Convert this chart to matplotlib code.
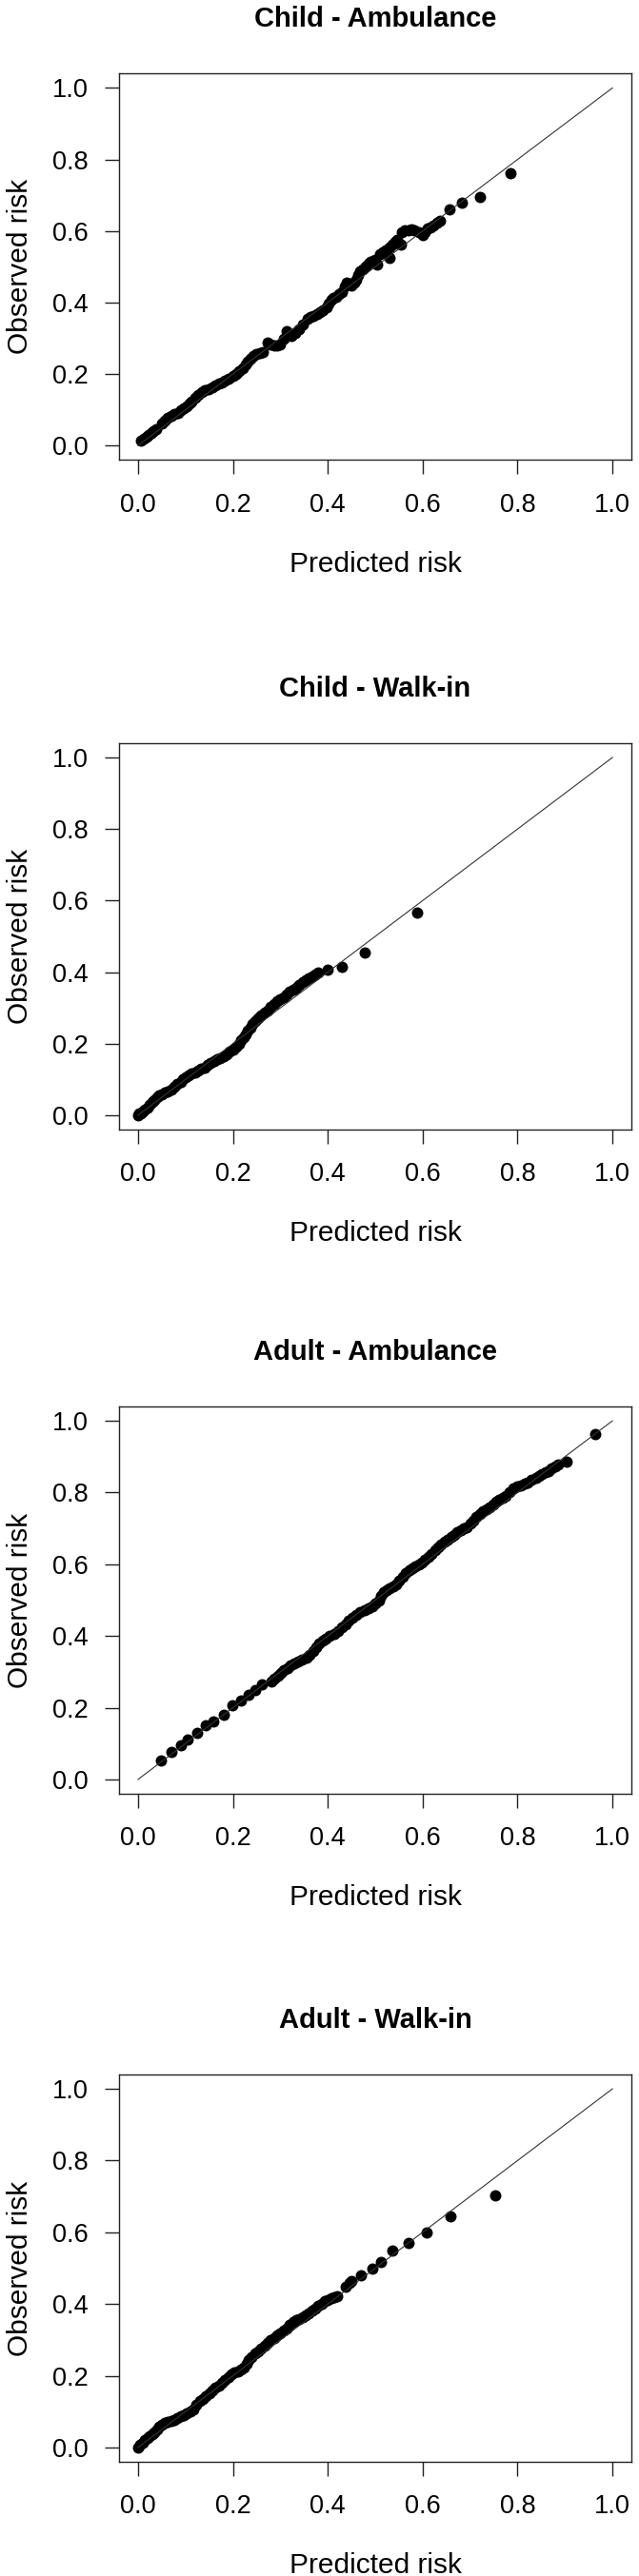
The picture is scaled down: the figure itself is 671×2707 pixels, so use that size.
import matplotlib
matplotlib.use("Agg")
import matplotlib.pyplot as plt

# ---------------------------
# 1. Data
# ---------------------------
titles = ['Child - Ambulance', 'Child - Walk-in', 'Adult - Ambulance', 'Adult - Walk-in']
tick_values = [0.0, 0.2, 0.4, 0.6, 0.8, 1.0]
tick_labels = ['0.0', '0.2', '0.4', '0.6', '0.8', '1.0']

child_amb_pred = [0.007, 0.013, 0.018, 0.023, 0.028, 0.033, 0.038, 0.050, 0.056, 0.063,
                  0.070, 0.077, 0.084, 0.090, 0.097, 0.103, 0.108, 0.113, 0.120, 0.127,
                  0.134, 0.140, 0.148, 0.157, 0.163, 0.170, 0.177, 0.183, 0.191, 0.200,
                  0.207, 0.213, 0.220, 0.227, 0.232, 0.237, 0.243, 0.250, 0.257, 0.263,
                  0.273, 0.280, 0.287, 0.293, 0.300, 0.307, 0.313, 0.318, 0.323, 0.332,
                  0.340, 0.348, 0.357, 0.363, 0.370, 0.377, 0.383, 0.390, 0.397, 0.402,
                  0.407, 0.412, 0.417, 0.423, 0.430, 0.435, 0.440, 0.445, 0.450, 0.455,
                  0.460, 0.463, 0.467, 0.473, 0.480, 0.485, 0.490, 0.495, 0.500, 0.505,
                  0.510, 0.517, 0.523, 0.530, 0.530, 0.537, 0.542, 0.547, 0.555, 0.557,
                  0.563, 0.570, 0.577, 0.583, 0.592, 0.600, 0.605, 0.610, 0.617, 0.623,
                  0.630, 0.637, 0.657, 0.683, 0.720, 0.785]
child_amb_obs = [0.013, 0.020, 0.024, 0.030, 0.035, 0.040, 0.046, 0.062, 0.070, 0.078,
                 0.084, 0.089, 0.092, 0.098, 0.105, 0.111, 0.117, 0.124, 0.133, 0.142,
                 0.149, 0.155, 0.158, 0.164, 0.168, 0.173, 0.177, 0.182, 0.188, 0.195,
                 0.201, 0.208, 0.216, 0.226, 0.236, 0.244, 0.251, 0.257, 0.260, 0.262,
                 0.288, 0.282, 0.279, 0.281, 0.284, 0.300, 0.319, 0.312, 0.306, 0.316,
                 0.324, 0.338, 0.355, 0.359, 0.363, 0.368, 0.372, 0.379, 0.386, 0.397,
                 0.408, 0.412, 0.417, 0.423, 0.430, 0.445, 0.457, 0.452, 0.448, 0.457,
                 0.465, 0.476, 0.488, 0.494, 0.501, 0.508, 0.514, 0.517, 0.519, 0.505,
                 0.536, 0.541, 0.545, 0.525, 0.553, 0.563, 0.570, 0.576, 0.562, 0.598,
                 0.601, 0.603, 0.604, 0.603, 0.597, 0.590, 0.598, 0.607, 0.611, 0.616,
                 0.622, 0.629, 0.660, 0.678, 0.696, 0.761]

child_walk_pred = [0.000, 0.003, 0.006, 0.010, 0.015, 0.020, 0.025, 0.030, 0.035, 0.040,
                   0.045, 0.050, 0.057, 0.063, 0.070, 0.077, 0.083, 0.090, 0.095, 0.100,
                   0.107, 0.113, 0.120, 0.127, 0.133, 0.140, 0.147, 0.153, 0.160, 0.167,
                   0.173, 0.180, 0.187, 0.193, 0.200, 0.207, 0.212, 0.217, 0.222, 0.227,
                   0.232, 0.237, 0.242, 0.247, 0.253, 0.260, 0.267, 0.273, 0.280, 0.287,
                   0.293, 0.300, 0.307, 0.313, 0.320, 0.327, 0.333, 0.340, 0.347, 0.353,
                   0.360, 0.367, 0.373, 0.380, 0.400, 0.429, 0.477, 0.589]
child_walk_obs = [0.001, 0.004, 0.006, 0.010, 0.015, 0.021, 0.028, 0.036, 0.043, 0.050,
                  0.055, 0.059, 0.063, 0.067, 0.073, 0.081, 0.087, 0.094, 0.101, 0.107,
                  0.112, 0.116, 0.120, 0.125, 0.129, 0.134, 0.141, 0.147, 0.152, 0.156,
                  0.160, 0.165, 0.171, 0.178, 0.184, 0.191, 0.200, 0.209, 0.218, 0.227,
                  0.236, 0.245, 0.254, 0.262, 0.271, 0.280, 0.287, 0.293, 0.302, 0.311,
                  0.318, 0.324, 0.331, 0.338, 0.345, 0.351, 0.357, 0.364, 0.371, 0.378,
                  0.383, 0.387, 0.393, 0.400, 0.406, 0.415, 0.456, 0.566]

adult_amb_pred = [0.048, 0.070, 0.090, 0.105, 0.125, 0.142, 0.159, 0.180, 0.199, 0.217,
                  0.234, 0.247, 0.262, 0.281, 0.288, 0.295, 0.302, 0.308, 0.315, 0.322,
                  0.330, 0.338, 0.346, 0.355, 0.362, 0.369, 0.376, 0.382, 0.389, 0.396,
                  0.404, 0.413, 0.421, 0.430, 0.437, 0.443, 0.452, 0.460, 0.468, 0.477,
                  0.485, 0.494, 0.501, 0.508, 0.513, 0.518, 0.525, 0.531, 0.538, 0.545,
                  0.551, 0.558, 0.565, 0.572, 0.578, 0.585, 0.592, 0.599, 0.605, 0.612,
                  0.619, 0.626, 0.632, 0.639, 0.646, 0.653, 0.660, 0.666, 0.673, 0.680,
                  0.687, 0.693, 0.700, 0.707, 0.713, 0.720, 0.727, 0.734, 0.741, 0.748,
                  0.755, 0.761, 0.768, 0.775, 0.783, 0.792, 0.800, 0.808, 0.815, 0.822,
                  0.830, 0.839, 0.845, 0.852, 0.859, 0.866, 0.872, 0.879, 0.886, 0.903,
                  0.963]
adult_amb_obs = [0.052, 0.077, 0.096, 0.112, 0.130, 0.150, 0.161, 0.179, 0.206, 0.221,
                 0.237, 0.250, 0.265, 0.274, 0.282, 0.290, 0.297, 0.304, 0.311, 0.317,
                 0.323, 0.330, 0.335, 0.339, 0.348, 0.357, 0.368, 0.379, 0.386, 0.393,
                 0.400, 0.406, 0.415, 0.424, 0.433, 0.442, 0.451, 0.459, 0.466, 0.473,
                 0.478, 0.482, 0.491, 0.500, 0.511, 0.522, 0.528, 0.533, 0.538, 0.544,
                 0.555, 0.566, 0.575, 0.584, 0.589, 0.593, 0.600, 0.606, 0.613, 0.620,
                 0.629, 0.638, 0.646, 0.655, 0.662, 0.669, 0.676, 0.682, 0.689, 0.695,
                 0.700, 0.704, 0.713, 0.722, 0.731, 0.740, 0.747, 0.753, 0.760, 0.767,
                 0.774, 0.780, 0.786, 0.791, 0.801, 0.811, 0.816, 0.820, 0.825, 0.829,
                 0.836, 0.842, 0.847, 0.851, 0.856, 0.860, 0.867, 0.874, 0.878, 0.885,
                 0.963]

adult_walk_pred = [0.000, 0.005, 0.010, 0.015, 0.020, 0.025, 0.030, 0.035, 0.040, 0.045,
                   0.050, 0.057, 0.063, 0.070, 0.077, 0.083, 0.090, 0.097, 0.103, 0.110,
                   0.117, 0.123, 0.130, 0.137, 0.143, 0.150, 0.157, 0.163, 0.170, 0.177,
                   0.183, 0.190, 0.197, 0.203, 0.210, 0.217, 0.223, 0.228, 0.233, 0.240,
                   0.247, 0.253, 0.260, 0.267, 0.273, 0.280, 0.287, 0.293, 0.300, 0.307,
                   0.313, 0.320, 0.327, 0.333, 0.340, 0.347, 0.353, 0.360, 0.367, 0.373,
                   0.380, 0.387, 0.393, 0.400, 0.407, 0.413, 0.420, 0.437, 0.445, 0.450,
                   0.470, 0.493, 0.513, 0.537, 0.570, 0.608, 0.658, 0.753]
adult_walk_obs = [0.001, 0.007, 0.014, 0.020, 0.027, 0.031, 0.036, 0.043, 0.050, 0.057,
                  0.063, 0.068, 0.072, 0.075, 0.078, 0.082, 0.087, 0.091, 0.095, 0.101,
                  0.107, 0.118, 0.129, 0.135, 0.142, 0.151, 0.160, 0.166, 0.173, 0.180,
                  0.187, 0.196, 0.204, 0.209, 0.213, 0.218, 0.222, 0.233, 0.244, 0.253,
                  0.262, 0.268, 0.275, 0.284, 0.293, 0.300, 0.306, 0.313, 0.319, 0.326,
                  0.332, 0.341, 0.350, 0.355, 0.359, 0.364, 0.368, 0.375, 0.381, 0.388,
                  0.394, 0.401, 0.408, 0.412, 0.416, 0.419, 0.421, 0.447, 0.458, 0.465,
                  0.480, 0.499, 0.516, 0.549, 0.569, 0.599, 0.645, 0.704]

panels = [
    (child_amb_pred, child_amb_obs),
    (child_walk_pred, child_walk_obs),
    (adult_amb_pred, adult_amb_obs),
    (adult_walk_pred, adult_walk_obs),
]

# ---------------------------
# 2. Layout (pixels of the 671 x 2707 canvas)
# ---------------------------
W, H = 671, 2707
box_left, box_width = 125, 538
box_top_bottom = [(77.4, 483.3), (781, 1187), (1478, 1885), (2180, 2587)]

plt.rcParams['font.family'] = ['Liberation Sans', 'DejaVu Sans']

fig = plt.figure(figsize=(W / 100, H / 100), dpi=100)

# ---------------------------
# 3. Draw each calibration panel
# ---------------------------
for (pred, obs), title, (top, bottom) in zip(panels, titles, box_top_bottom):
    h = bottom - top
    ax = fig.add_axes([box_left / W, 1 - bottom / H, box_width / W, h / H])

    ax.plot(pred, obs, 'o', color='black', markersize=8.6, markeredgewidth=0, zorder=2)
    ax.plot([0, 1], [0, 1], color='#333333', linewidth=0.8, zorder=3)

    ax.set_xlim(-0.04, 1.04)
    ax.set_ylim(-0.04, 1.04)
    ax.set_xticks(tick_values)
    ax.set_xticklabels(tick_labels)
    ax.set_yticks(tick_values)
    ax.set_yticklabels(tick_labels)
    ax.tick_params(direction='out', length=10.8, width=1.0, labelsize=19.5, color='#222222')
    ax.tick_params(axis='x', pad=14.0)
    ax.tick_params(axis='y', pad=12.5)
    for spine in ax.spines.values():
        spine.set_linewidth(1.0)
        spine.set_color('#222222')

    ax.text(0.5, 1 + 49 / h, title, transform=ax.transAxes, ha='center', va='baseline',
            fontsize=21, fontweight='bold')
    ax.text(0.5, -117.3 / h, 'Predicted risk', transform=ax.transAxes, ha='center',
            va='baseline', fontsize=21.5)
    fig.text(29.3 / W, 1 - (top + bottom) / 2 / H, 'Observed risk', rotation=90,
             rotation_mode='anchor', ha='center', va='baseline', fontsize=21.5)

fig.savefig('out.png', dpi=100)
plt.close(fig)
